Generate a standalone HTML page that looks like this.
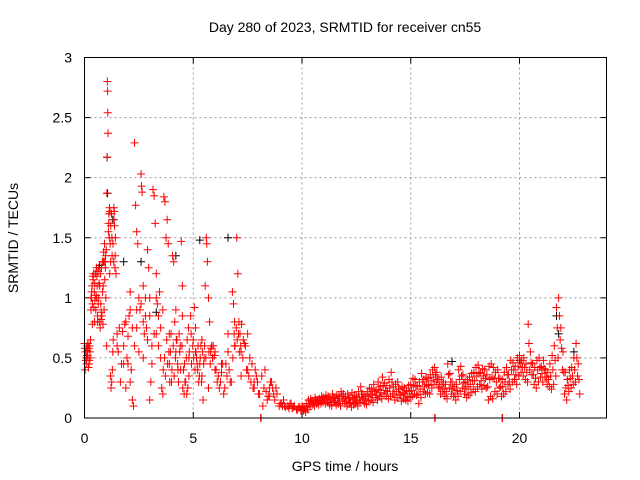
<!DOCTYPE html>
<html><head><meta charset="utf-8"><style>
body{margin:0;background:#fff;}
svg{display:block;font-family:"Liberation Sans",sans-serif;}
</style></head><body>
<svg id="chart" width="640" height="480" viewBox="0 0 640 480" xmlns="http://www.w3.org/2000/svg">
<rect width="640" height="480" fill="#fff"/>
<text x="345" y="32" font-size="14" text-anchor="middle">Day 280 of 2023, SRMTID for receiver cn55</text>
<text x="345" y="471" font-size="14" text-anchor="middle">GPS time / hours</text>
<text transform="translate(18,238) rotate(-90)" font-size="14" text-anchor="middle">SRMTID / TECUs</text>
<g id="grid"></g>
<g id="ticks"></g>
<g id="marks"></g>
<rect x="84.5" y="57.5" width="522" height="360.5" fill="none" stroke="#000" stroke-width="1"/>
</svg>
<script>
const xTicks = [0, 5, 10, 15, 20];
const yTicks = [0, 0.5, 1, 1.5, 2, 2.5, 3];
const yTickLabels = ["0", "0.5", "1", "1.5", "2", "2.5", "3"];
const blackTimes = [0.7,1.04,1.06,1.3,1.8,2.6,3.3,4.2,5.3,6.6,16.9,20.0,21.7,21.8,22.5];
const blackValues = [1.27,2.17,1.87,1.65,1.3,1.3,0.88,1.35,1.48,1.5,0.47,0.48,0.85,0.7,0.55];
const earlyTimes = [0.0,0.05,0.08,0.1,0.12,0.15,0.18,0.2,0.22,0.25,0.28,0.3,0.32,0.35,0.37,0.4,0.42,0.45,0.48,0.5,0.52,0.55,0.58,0.6,0.62,0.65,0.68,0.7,0.72,0.75,0.78,0.8,0.82,0.85,0.88,0.9,0.92,0.95,0.98,1.0,1.02,1.05,1.06,1.07,1.08,1.04,1.03,1.1,1.12,1.15,1.18,1.2,1.22,1.25,1.28,1.3,1.32,1.35,1.38,1.4,1.42,1.45,1.5,1.55,1.6,1.65,1.7,1.75,1.8,1.85,1.9,1.95,2.0,2.05,2.1,2.15,2.2,2.25,2.3,2.35,2.4,2.45,2.5,2.55,2.6,2.62,2.65,2.7,2.75,2.8,2.85,2.9,2.95,3.0,3.05,3.1,3.15,3.2,3.25,3.3,3.35,3.4,3.45,3.5,3.55,3.6,3.65,3.7,3.75,3.8,3.85,3.9,3.95,4.0,4.05,4.1,4.15,4.2,4.25,4.3,4.35,4.4,4.45,4.5,4.55,4.6,4.65,4.7,4.75,4.8,4.9,5.0,5.05,5.1,5.15,5.2,5.25,5.3,5.35,5.4,5.45,5.5,5.55,5.6,5.62,5.65,5.7,5.75,5.8,5.85,5.9,6.0,6.1,6.2,6.3,6.4,6.5,6.6,6.7,6.8,6.85,6.9,7.0,7.05,7.1,7.15,7.2,7.3,7.4,7.5,7.6,7.7,7.8,7.9,8.0,8.1,8.12,8.2,8.25,8.3,8.4,8.5,8.6,8.7,8.8,9.0,9.2,9.4,9.6,9.8,16.1,16.12,19.2,19.22,
0.1,0.3,0.6,0.9,1.2,1.5,1.8,2.1,2.4,2.7,3.0,3.3,3.6,3.9,4.2,4.5,4.8,5.1,5.4,5.7,6.0,6.3,6.6,6.9,7.2,7.5,7.8,8.5,9.1,9.5,9.9];
const earlyValues = [0.62,0.55,0.5,0.45,0.6,0.52,0.42,0.58,0.48,0.55,0.65,0.9,1.0,1.1,0.95,1.15,1.2,1.05,0.98,1.2,0.9,1.25,1.1,0.85,1.22,1.0,0.8,1.1,0.75,0.95,1.25,0.85,1.3,0.78,1.38,0.9,1.45,1.3,1.0,1.4,0.6,2.8,2.72,2.54,2.37,2.17,1.87,1.55,1.7,1.75,1.45,1.3,0.25,0.3,0.4,0.55,0.65,1.75,1.6,1.25,1.5,1.2,0.7,0.55,0.75,0.3,0.45,0.72,0.6,0.78,0.25,0.5,0.68,0.85,1.05,0.4,0.15,0.1,2.29,1.77,1.55,1.45,1.0,0.9,2.03,1.93,1.88,1.1,0.7,0.85,0.75,1.4,1.25,0.15,0.3,0.6,1.9,1.85,1.62,1.2,0.95,0.85,1.05,0.5,0.25,0.2,1.84,1.8,1.5,1.65,1.45,0.7,0.55,0.3,1.35,1.3,0.8,0.9,0.65,0.4,0.7,0.6,1.47,1.1,0.4,0.45,0.3,0.2,0.25,0.5,0.7,0.65,0.92,0.75,0.5,0.4,0.3,0.45,0.6,0.35,0.15,0.5,1.1,1.5,1.45,1.3,1.0,0.8,0.55,0.6,0.5,0.4,0.3,0.25,0.38,0.2,0.45,0.55,0.3,1.05,0.95,0.8,1.5,1.2,0.8,0.7,0.35,0.65,0.6,0.7,0.5,0.45,0.3,0.35,0.2,0.0,0.0,0.1,0.25,0.4,0.15,0.25,0.3,0.2,0.25,0.12,0.1,0.08,0.09,0.07,0.0,0.0,0.0,0.0,
0.58,1.0,0.8,1.3,0.35,0.6,0.45,0.9,0.75,0.5,1.0,0.7,0.9,0.45,0.55,0.85,0.35,0.55,0.65,0.25,0.55,0.45,0.7,0.6,0.55,0.4,0.25,0.18,0.1,0.12,0.09];
const extraTimes = [0.02,0.06,0.11,0.16,0.21,0.26,0.03,0.14,0.24,0.33,0.38,0.43,0.47,0.53,0.57,0.63,0.67,0.73,0.77,0.83,0.87,0.93,0.97,0.36,0.46,0.56,0.66,0.76,0.86,0.96,1.11,1.14,1.17,1.21,1.24,1.27,1.31,1.34,1.37,1.41,1.16,1.26,1.36,
3.62,3.68,3.72,3.78,3.82,3.88,3.92,3.98,4.02,4.08,4.12,4.18,4.22,4.28,4.32,4.38,4.42,4.48,4.52,4.58,4.62,4.68,4.72,4.78,4.82,4.88,4.92,4.98,
5.02,5.08,5.12,5.18,5.22,5.28,5.32,5.38,5.42,5.48,5.52,5.58,5.72,5.78,5.82,5.88,5.92,5.98,6.05,6.15,6.25,6.35,6.45,6.55,6.65,6.75,6.82,6.88,6.92,6.98,7.02,7.08,7.12,7.18,7.22,7.28,7.35,7.45,7.55,7.65,7.75,7.85,7.95,8.05,8.15,8.35,8.45,8.55,8.65,8.75,8.85,8.95,9.05,9.15,9.25,9.35,9.45,9.55,9.65,9.75,9.85,9.95,
1.9,2.0,2.1,2.2,2.3,2.4,2.5,2.6,2.7,2.8,2.9,3.0,3.1,3.2,3.3,3.4,3.5];
const extraValues = [0.58,0.48,0.52,0.62,0.45,0.5,0.4,0.56,0.6,1.05,1.18,0.92,1.12,1.02,1.18,0.95,1.12,1.2,0.88,1.05,1.3,1.15,1.35,0.78,0.8,1.0,1.25,0.82,1.1,1.25,1.62,1.5,1.72,1.6,1.7,1.35,1.45,1.3,1.72,1.35,1.2,1.5,1.65,
0.4,0.5,0.35,0.65,0.45,0.55,0.3,0.7,0.4,0.6,0.35,0.5,0.65,0.45,0.3,0.55,0.4,0.6,0.25,0.2,0.3,0.5,0.65,0.75,0.55,0.85,0.45,0.6,
0.5,0.4,0.55,0.45,0.6,0.35,0.5,0.3,0.55,0.45,0.6,0.5,0.55,0.45,0.58,0.5,0.6,0.52,0.4,0.35,0.3,0.45,0.25,0.35,0.4,0.3,0.5,0.7,0.6,0.75,0.65,0.7,0.55,0.6,0.78,0.5,0.62,0.4,0.35,0.3,0.25,0.4,0.3,0.2,0.35,0.22,0.18,0.3,0.25,0.15,0.2,0.1,0.12,0.15,0.09,0.1,0.12,0.08,0.1,0.07,0.09,0.06,
0.8,0.45,0.3,0.75,0.6,0.9,0.55,0.95,0.8,1.0,0.65,0.85,0.45,0.7,1.0,0.6,0.75];
const tailTimes = [10.0,10.1,10.2,10.3,10.4,10.5,10.6,10.7,10.8,10.9,11.0,11.1,11.2,11.3,11.4,11.5,11.6,11.7,11.8,11.9,12.0,12.1,12.2,12.3,12.4,12.5,12.6,12.7,12.8,12.9,13.0,13.1,13.2,13.3,13.4,13.5,13.6,13.7,13.8,13.9,14.0,14.1,14.2,14.3,14.4,14.5,14.6,14.7,14.8,14.9,15.0,15.1,15.2,15.3,15.4,15.5,15.6,15.7,15.8,15.9,16.0,16.1,16.2,16.3,16.4,16.5,16.6,16.7,16.8,16.9,17.0,17.1,17.2,17.3,17.4,17.5,17.6,17.7,17.8,17.9,18.0,18.1,18.2,18.3,18.4,18.5,18.6,18.7,18.8,18.9,19.0,19.1,19.2,19.3,19.4,19.5,19.6,19.7,19.8,19.9,20.0,20.1,20.2,20.3,20.4,20.5,20.6,20.7,20.8,20.9,21.0,21.1,21.2,21.3,21.4,21.5,21.6,21.7,21.8,21.9,22.0,22.1,22.2,22.3,22.4,22.5,22.6,22.7];
const tailHigh = [.10,.09,.12,.15,.16,.14,.17,.15,.16,.18,.17,.19,.18,.16,.20,.17,.19,.18,.22,.20,.18,.20,.17,.21,.19,.18,.22,.26,.20,.19,.22,.25,.24,.28,.23,.30,.26,.34,.29,.27,.32,.38,.26,.28,.30,.24,.26,.25,.23,.27,.28,.33,.32,.27,.30,.37,.32,.34,.33,.36,.40,.42,.38,.32,.34,.30,.28,.45,.37,.30,.26,.28,.40,.43,.36,.30,.32,.34,.37,.38,.42,.44,.38,.41,.40,.36,.43,.45,.42,.38,.40,.33,.32,.38,.42,.36,.48,.46,.43,.50,.52,.48,.50,.45,.78,.55,.45,.42,.48,.50,.43,.48,.40,.38,.45,.52,.60,.92,1.0,.75,.55,.38,.32,.40,.42,.50,.62,.45];
const tailMid = [.08,.07,.09,.12,.14,.12,.15,.13,.14,.15,.15,.16,.15,.13,.17,.14,.16,.14,.18,.16,.14,.16,.13,.16,.15,.14,.17,.20,.16,.15,.18,.20,.19,.22,.19,.24,.21,.27,.23,.22,.25,.30,.20,.22,.24,.19,.21,.20,.18,.22,.23,.27,.26,.20,.24,.30,.26,.28,.27,.31,.34,.36,.32,.26,.28,.24,.22,.36,.30,.24,.20,.23,.32,.35,.29,.24,.26,.28,.31,.31,.35,.37,.31,.35,.33,.26,.32,.34,.33,.30,.33,.26,.26,.30,.36,.30,.40,.40,.36,.43,.46,.42,.42,.38,.62,.46,.36,.33,.40,.42,.37,.41,.34,.32,.35,.40,.48,.75,.85,.58,.38,.25,.27,.33,.35,.40,.50,.32];
const tailLow = [.06,.05,.07,.10,.11,.10,.12,.11,.12,.13,.12,.13,.11,.10,.13,.11,.12,.10,.14,.12,.10,.12,.09,.11,.12,.10,.13,.15,.12,.11,.14,.15,.13,.17,.15,.18,.16,.20,.18,.16,.18,.20,.15,.17,.19,.14,.16,.15,.14,.17,.18,.20,.19,.12,.17,.22,.20,.21,.20,.25,.28,.30,.25,.20,.22,.18,.16,.25,.20,.18,.15,.18,.22,.25,.20,.17,.19,.21,.24,.22,.26,.28,.24,.27,.25,.15,.18,.16,.22,.20,.25,.18,.20,.22,.28,.24,.30,.32,.28,.35,.38,.35,.32,.30,.40,.36,.28,.25,.30,.34,.30,.34,.28,.26,.24,.28,.35,.50,.65,.40,.20,.15,.22,.25,.28,.30,.35,.20];

const X0 = 84.5, X1 = 606.5, Y0 = 418, Y1 = 57.5;
const xScale = t => X0 + (t / 24) * (X1 - X0);
const yScale = v => Y0 - (v / 3) * (Y0 - Y1);
const NS = "http://www.w3.org/2000/svg";
const grid = document.getElementById('grid');
const ticks = document.getElementById('ticks');
const marks = document.getElementById('marks');

function mk(tag, attrs, parent) {
  const e = document.createElementNS(NS, tag);
  for (const k in attrs) e.setAttribute(k, attrs[k]);
  parent.appendChild(e);
  return e;
}

xTicks.forEach(t => {
  const x = xScale(t);
  if (t > 0) {
    const g = mk('line', {x1: x, x2: x, y1: Y1, y2: Y0, stroke: '#999', 'stroke-dasharray': '2,3'}, grid);
    
    
  }
  mk('line', {x1: x, x2: x, y1: Y0, y2: Y0 - 6, stroke: '#000'}, ticks);
  mk('line', {x1: x, x2: x, y1: Y1, y2: Y1 + 6, stroke: '#000'}, ticks);
  const lb = mk('text', {x: x, y: 443, 'font-size': 14, 'text-anchor': 'middle'}, ticks);
  lb.textContent = String(t);
  
  
});
yTicks.forEach((v, i) => {
  const y = yScale(v);
  if (v > 0 && v < 3) {
    const g = mk('line', {x1: X0, x2: X1, y1: y, y2: y, stroke: '#999', 'stroke-dasharray': '2,3'}, grid);
    
    
  }
  mk('line', {x1: X0, x2: X0 + 6, y1: y, y2: y, stroke: '#000'}, ticks);
  mk('line', {x1: X1, x2: X1 - 6, y1: y, y2: y, stroke: '#000'}, ticks);
  const lb = mk('text', {x: 72, y: y + 5, 'font-size': 14, 'text-anchor': 'end'}, ticks);
  lb.textContent = yTickLabels[i];
  
  
});

function plus(t, v, color, name) {
  const x = xScale(t), y = yScale(v);
  const p = mk('path', {d: `M${x-4},${y}H${x+4}M${x},${y-4}V${y+4}`, stroke: color, 'stroke-width': 1, fill: 'none'}, marks);
  
  
}
blackTimes.forEach((t, i) => plus(t, blackValues[i], '#000', 'point-series-1'));
earlyTimes.forEach((t, i) => plus(t, earlyValues[i], '#f00', 'point-series-2'));
extraTimes.forEach((t, i) => plus(t, extraValues[i], '#f00', 'point-series-2'));
tailTimes.forEach((t, i) => {
  plus(t, tailHigh[i], '#f00', 'point-series-2');
  plus(t + 0.035, tailMid[i], '#f00', 'point-series-2');
  plus(t + 0.07, tailLow[i], '#f00', 'point-series-2');
});
</script>
</body></html>
